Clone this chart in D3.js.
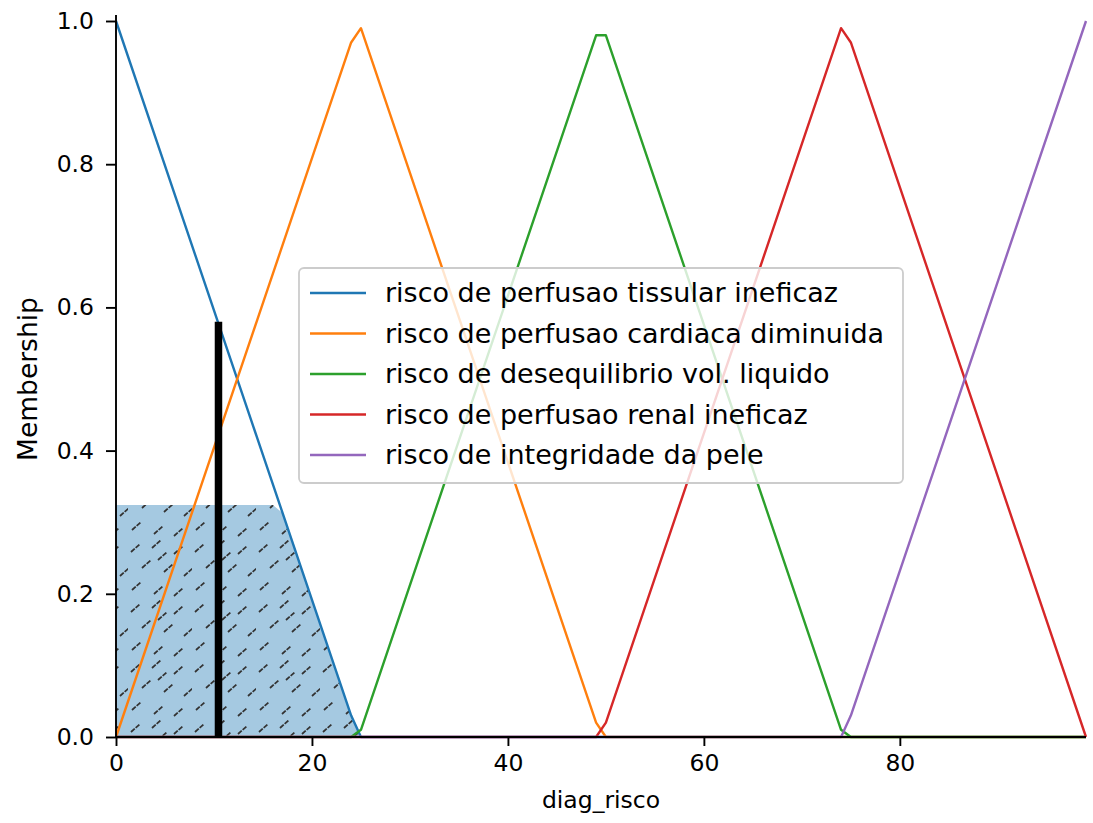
<!DOCTYPE html>
<html><head><meta charset="utf-8">
<script src="https://cdn.jsdelivr.net/npm/d3@7"></script>
<style>body{margin:0;background:#fff}svg{display:block}</style>
</head><body>
<script>
// ---- data (vertices) ----
const seriesNames = ["risco de perfusao tissular ineficaz","risco de perfusao cardiaca diminuida","risco de desequilibrio vol. liquido","risco de perfusao renal ineficaz","risco de integridade da pele"];
const seriesColors = ["#1f77b4","#ff7f0e","#2ca02c","#d62728","#9467bd"];
const tissularX = [0,24,25,99];            const tissularY = [1,0.03,0,0];
const cardiacaX = [0,24,25,49,50,99];      const cardiacaY = [0,0.97,0.99,0.02,0,0];
const liquidoX  = [0,24,25,49,50,74,75,99];const liquidoY  = [0,0,0.01,0.98,0.98,0.01,0,0];
const renalX    = [0,49,50,74,75,99];      const renalY    = [0,0,0.02,0.99,0.97,0];
const peleX     = [0,74,75,99];            const peleY     = [0,0,0.03,1];
const fillX = [0,16,17,24,25,99];          const fillY = [0.324,0.324,0.313,0.03,0,0];
const crispX = 10.46, crispY = 0.58;
const xTicks = [0,20,40,60,80];
const yTicks = [0,0.2,0.4,0.6,0.8,1.0];
const xLabel = "diag_risco", yLabel = "Membership";

const W=1093,H=823;
const L=116,R=1086,T=15,B=737;
const FONT="DejaVu Sans";
const svg=d3.select("body").append("svg").attr("width",W).attr("height",H);
const x=d3.scaleLinear().domain([0,99]).range([L,R]);
const y=d3.scaleLinear().domain([0,1]).range([B,B-716]);

const defs=svg.append("defs");
const pat=defs.append("pattern").attr("id","hatch").attr("patternUnits","userSpaceOnUse")
  .attr("width",64).attr("height",60);
const dashes=[[3,12],[24,8],[46,14],[14,28],[36,32],[56,36],[4,50],[26,54],[46,56],[30,20]];
dashes.forEach(([px,py])=>{
  pat.append("line").attr("x1",px).attr("y1",py).attr("x2",px+9).attr("y2",py-8)
   .attr("stroke","#333").attr("stroke-width",1.8).attr("stroke-dasharray","5,1.2");
});

const series=[[tissularX,tissularY],[cardiacaX,cardiacaY],[liquidoX,liquidoY],[renalX,renalY],[peleX,peleY]];
const fillPts=fillX.map((v,i)=>[v,fillY[i]]);
const area=d3.area().x(d=>x(d[0])).y0(y(0)).y1(d=>y(d[1]));
svg.append("path").datum(fillPts).attr("d",area).attr("fill","#1f77b4").attr("fill-opacity",0.4);
svg.append("path").datum(fillPts).attr("d",area).attr("fill","url(#hatch)");

const line=d3.line().x(d=>x(d[0])).y(d=>y(d[1]));
series.forEach(([xs,ys],i)=>{
  svg.append("path").datum(xs.map((v,j)=>[v,ys[j]])).attr("d",line)
    .attr("fill","none").attr("stroke",seriesColors[i]).attr("stroke-width",2.4).attr("stroke-linejoin","round");
});
svg.append("line").attr("x1",x(crispX)).attr("x2",x(crispX)).attr("y1",y(0)).attr("y2",y(crispY))
  .attr("stroke","#000").attr("stroke-width",7.5);

// axes
const gx=svg.append("g").attr("transform",`translate(0,${B})`)
  .call(d3.axisBottom(x).tickValues(xTicks).tickFormat(d3.format("d")).tickSize(9).tickPadding(8));
const gy=svg.append("g").attr("transform",`translate(${L},0)`)
  .call(d3.axisLeft(y).tickValues(yTicks).tickFormat(d3.format(".1f")).tickSize(10).tickPadding(12));
[gx,gy].forEach(g=>{
  g.select(".domain").remove();
  g.selectAll(".tick line").attr("stroke","#000").attr("stroke-width",1.9);
  g.selectAll(".tick text").attr("font-family",FONT).attr("font-size",23.5).attr("fill","#000");
});
svg.append("line").attr("x1",L).attr("x2",L).attr("y1",T).attr("y2",B+1).attr("stroke","#000").attr("stroke-width",1.9);
svg.append("line").attr("x1",L-1).attr("x2",R).attr("y1",B).attr("y2",B).attr("stroke","#000").attr("stroke-width",1.9);

svg.append("text").attr("x",(L+R)/2).attr("y",808).attr("text-anchor","middle")
  .attr("font-family",FONT).attr("font-size",23.5).text(xLabel);
svg.append("text").attr("transform",`translate(37,${(T+B)/2+3}) rotate(-90)`).attr("text-anchor","middle")
  .attr("font-family",FONT).attr("font-size",26.5).text(yLabel);

// legend
const lg=svg.append("g");
lg.append("rect").attr("x",299).attr("y",268).attr("width",604).attr("height",215).attr("rx",5)
  .attr("fill","#fff").attr("fill-opacity",0.8).attr("stroke","#cccccc").attr("stroke-width",1.8);
seriesNames.forEach((n,i)=>{
  const cy=293+i*40.5;
  lg.append("line").attr("x1",310).attr("x2",366).attr("y1",cy).attr("y2",cy)
    .attr("stroke",seriesColors[i]).attr("stroke-width",2.4);
  lg.append("text").attr("x",385).attr("y",cy).attr("dy","0.35em")
    .attr("font-family",FONT).attr("font-size",27).attr("fill","#000").text(n);
});
</script>
</body></html>
